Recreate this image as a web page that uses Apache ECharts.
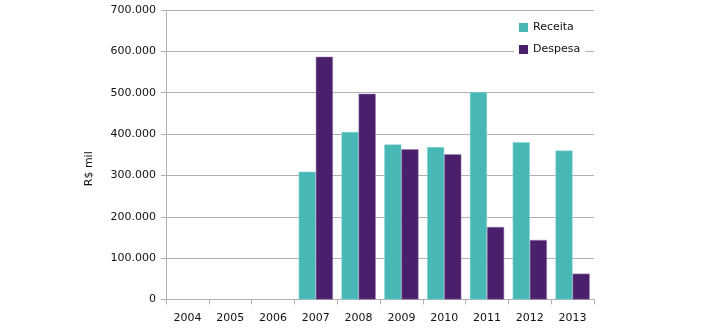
<!DOCTYPE html>
<html><head><meta charset="utf-8">
<script src="https://cdn.jsdelivr.net/npm/echarts@6/dist/echarts.min.js"></script>
<style>html,body{margin:0;padding:0;background:#fff}#c{width:705px;height:328px}</style>
</head><body><div id="c"></div>
<script>
const categories = ['2004','2005','2006','2007','2008','2009','2010','2011','2012','2013'];
const receita = [null, null, null, 309000, 405000, 375000, 368500, 501500, 380500, 360000];
const despesa = [null, null, null, 587000, 497500, 363500, 351500, 175500, 144000, 62500];
const yTicks = [0, 100000, 200000, 300000, 400000, 500000, 600000, 700000];

const fmt = v => v === 0 ? '0' : String(v).replace(/\B(?=(\d{3})+(?!\d))/g, '.');
const chart = echarts.init(document.getElementById('c'), null, {renderer: 'canvas'});
const font = 'DejaVu Sans';
chart.setOption({
  animation: false,
  textStyle: {fontFamily: font},
  grid: {left: 166, right: 111, top: 10, bottom: 28.5},
  legend: {
    orient: 'vertical', left: 514, top: 17, padding: [5, 5, 5, 5],
    backgroundColor: '#fff', itemWidth: 9, itemHeight: 9, itemGap: 11,
    icon: 'rect', itemStyle: {borderWidth: 0},
    textStyle: {fontFamily: font, fontSize: 11, color: '#111'},
    data: ['Receita', 'Despesa']
  },
  xAxis: {
    type: 'category', data: categories,
    axisLine: {lineStyle: {color: '#b0b0b0'}},
    axisTick: {show: true, length: 5, lineStyle: {color: '#b0b0b0'}},
    axisLabel: {fontFamily: font, fontSize: 11, color: '#111', margin: 13}
  },
  yAxis: {
    type: 'value', min: yTicks[0], max: yTicks[yTicks.length - 1], interval: 100000,
    name: 'R$ mil', nameLocation: 'middle', nameGap: 71, nameRotate: 90,
    nameMoveOverlap: false,
    nameTextStyle: {fontFamily: font, fontSize: 11, color: '#111', padding: [0, 28, 0, 0]},
    axisLine: {show: true, lineStyle: {color: '#b0b0b0'}},
    axisTick: {show: true, length: 5, lineStyle: {color: '#b0b0b0'}},
    splitLine: {lineStyle: {color: '#b0b0b0'}},
    axisLabel: {fontFamily: font, fontSize: 11, color: '#111', margin: 10, formatter: fmt}
  },
  series: [
    {name: 'Receita', type: 'bar', data: receita, barGap: '0%', barCategoryGap: '20%',
     itemStyle: {color: '#48b8b7', borderColor: '#8fd6d4', borderWidth: 0.5}},
    {name: 'Despesa', type: 'bar', data: despesa,
     itemStyle: {color: '#4a1f6b', borderColor: '#9a84b0', borderWidth: 0.5}}
  ]
});
</script></body></html>
